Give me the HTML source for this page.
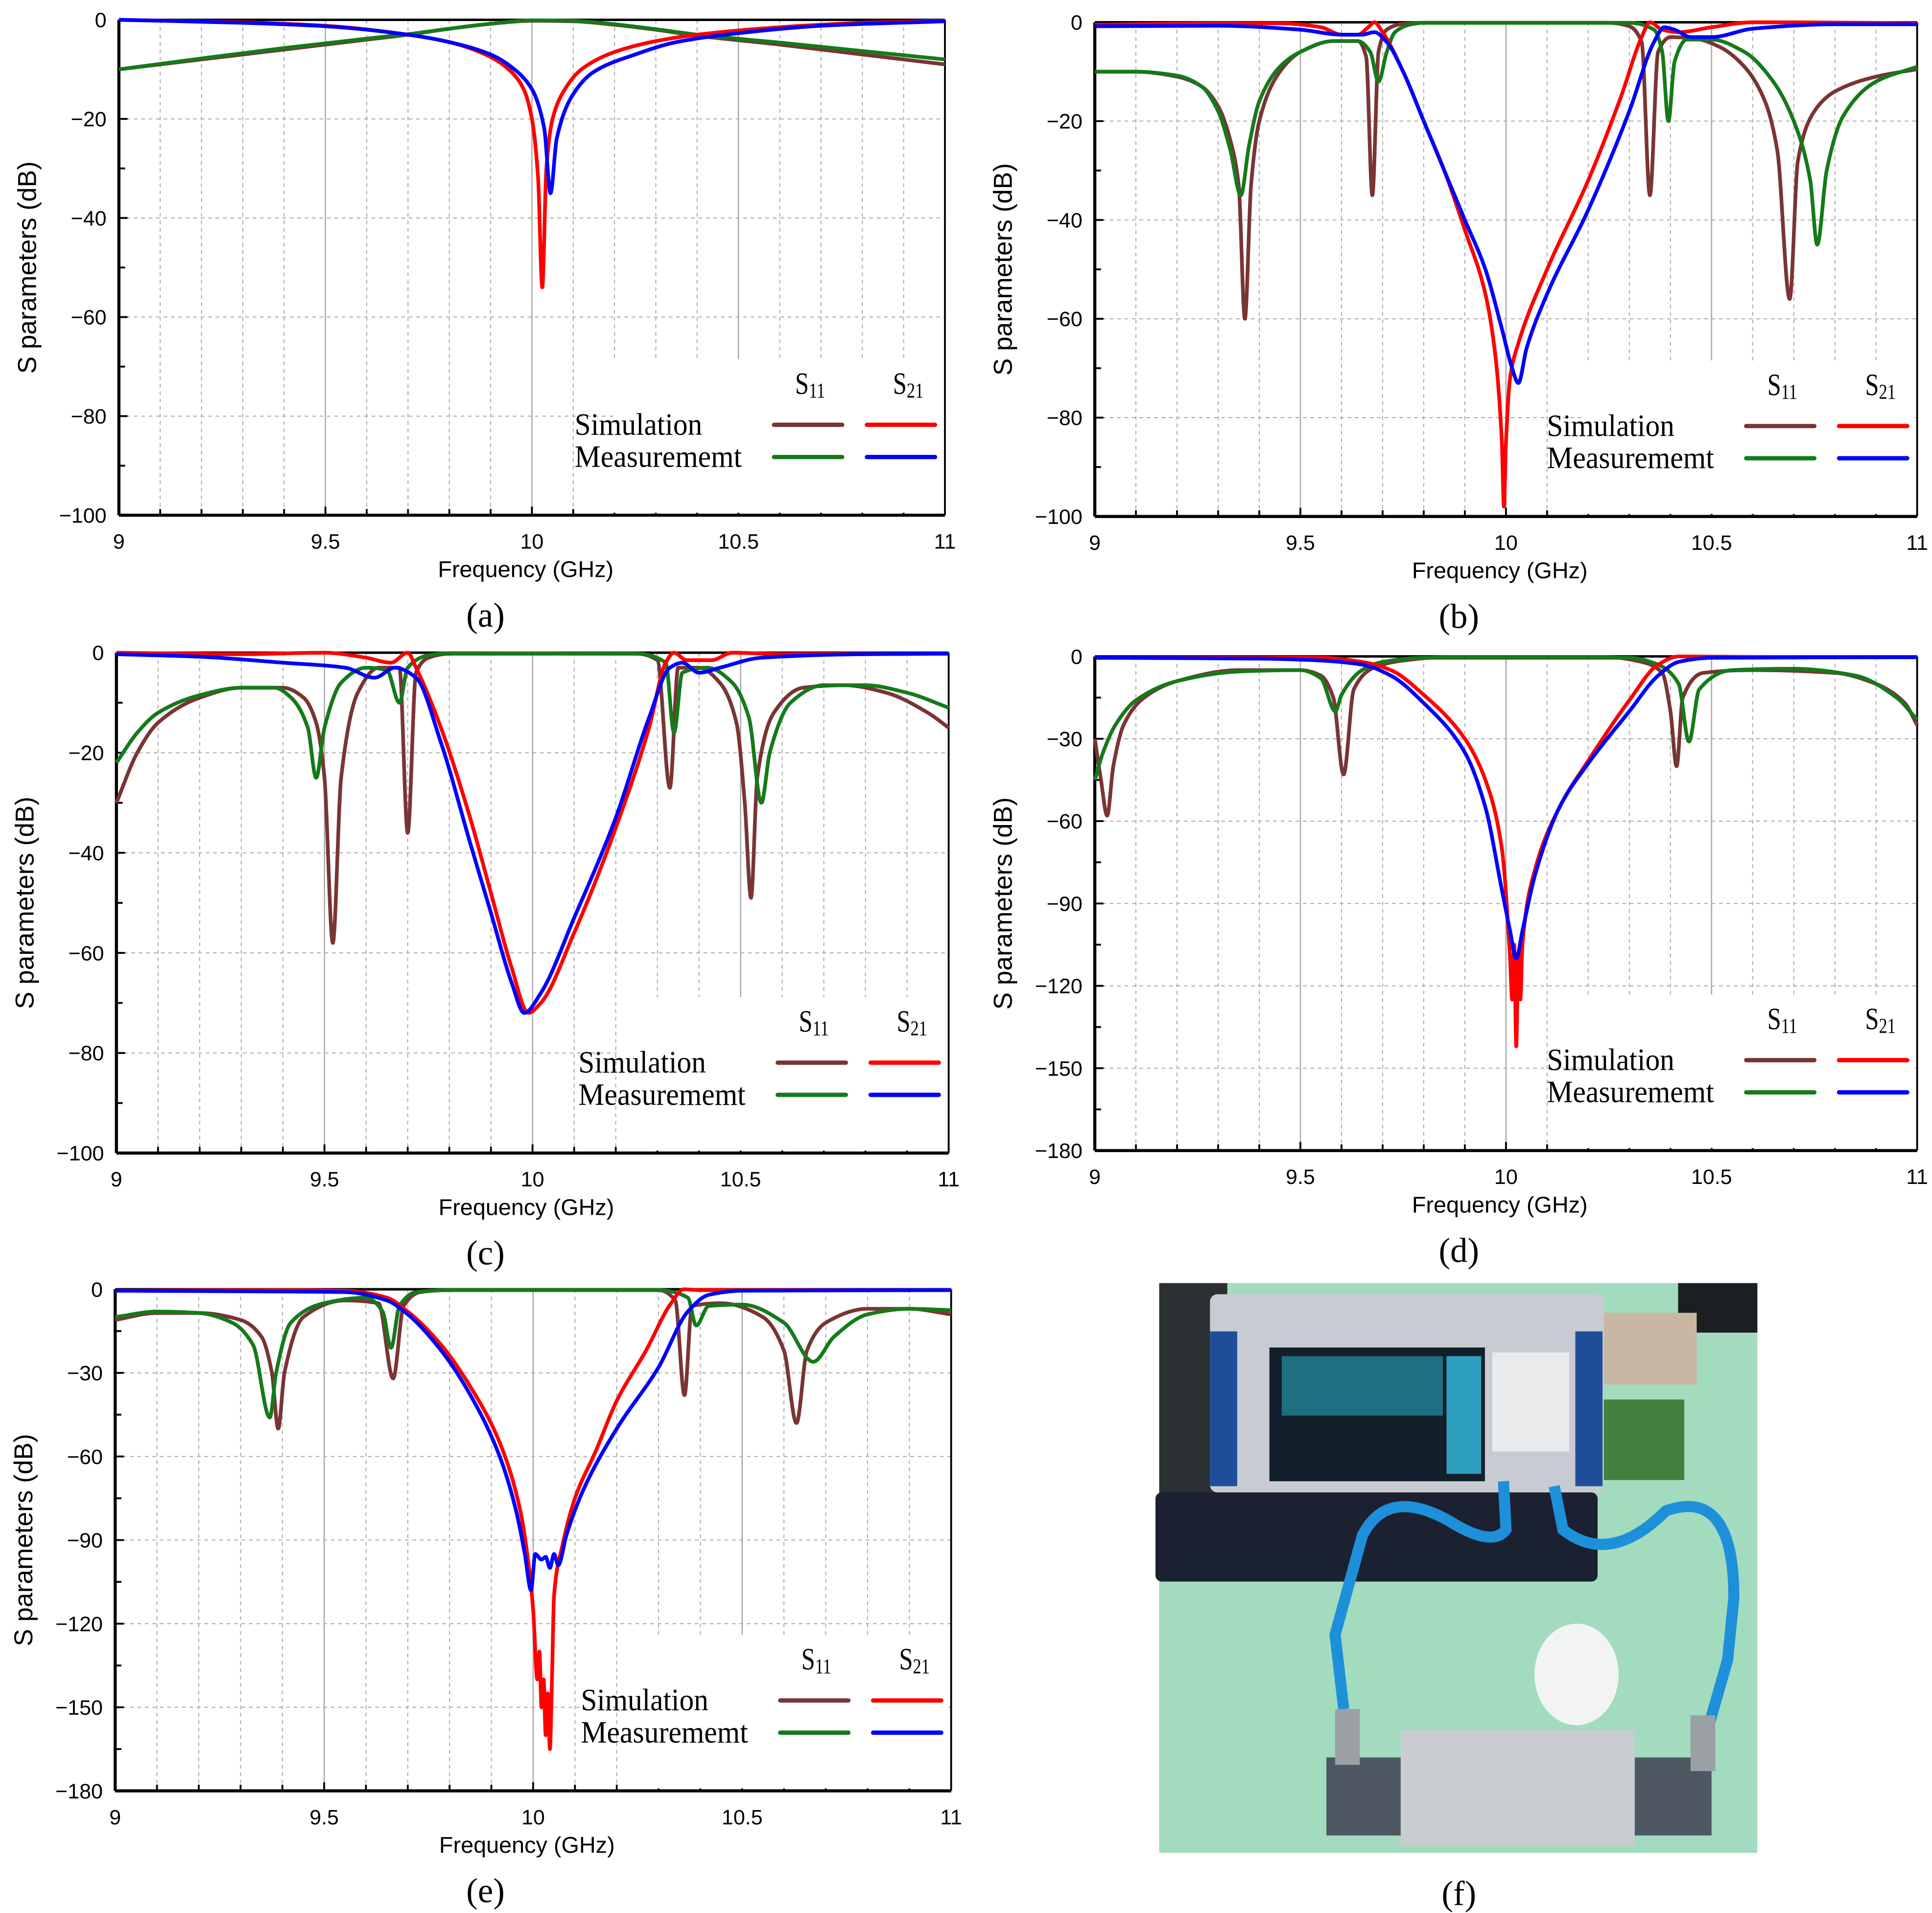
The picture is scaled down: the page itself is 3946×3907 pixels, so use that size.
<!DOCTYPE html>
<html><head><meta charset="utf-8"><style>
html,body{margin:0;padding:0;background:#fff;}
svg{display:block;}
</style></head><body>
<svg id="fig" xmlns="http://www.w3.org/2000/svg" width="3946" height="3907" viewBox="0 0 1560 1544.6" preserveAspectRatio="none">
<g id="photo">
<rect x="936" y="1036" width="483" height="460" fill="#a3dbbf"/>
<rect x="936" y="1036" width="55" height="200" fill="#2b3132"/>
<rect x="1355" y="1036" width="64" height="40" fill="#1c1f22"/>
<rect x="1275" y="1060" width="95" height="58" fill="#c9b7a4"/>
<rect x="1290" y="1130" width="70" height="65" fill="#44803d"/>
<rect x="977" y="1045" width="318" height="160" rx="6" fill="#c8ccd2"/>
<rect x="977" y="1075" width="22" height="125" fill="#1e4e9a"/>
<rect x="1272" y="1075" width="22" height="125" fill="#1e4e9a"/>
<rect x="1025" y="1088" width="174" height="108" fill="#13202c"/>
<rect x="1035" y="1095" width="130" height="48" fill="#1f6f82"/>
<rect x="1168" y="1095" width="28" height="95" fill="#2f9fc0"/>
<rect x="1205" y="1092" width="62" height="80" fill="#e8eaec"/>
<rect x="933" y="1205" width="357" height="72" rx="5" fill="#1b2130"/>
<path d="M1214,1196 L1216,1235 Q1205,1250 1170,1228 Q1120,1200 1100,1240 L1078,1320 L1085,1380" fill="none" stroke="#1e90da" stroke-width="9"/>
<path d="M1255,1200 L1262,1235 Q1300,1265 1345,1220 Q1400,1200 1400,1290 L1395,1340 L1375,1410" fill="none" stroke="#1e90da" stroke-width="9"/>
<ellipse cx="1273" cy="1352" rx="34" ry="41" fill="#f2f4f4"/>
<rect x="1071" y="1419" width="311" height="63" fill="#4d5862"/>
<rect x="1131" y="1397" width="189" height="93" fill="#c9ccd0"/>
<rect x="1078" y="1380" width="20" height="45" fill="#9aa0a4"/>
<rect x="1365" y="1385" width="20" height="45" fill="#9aa0a4"/>
</g>
</svg>
<script>
// ---- data: [frequency GHz, dB] ----
const aSimS11=[[9,-10],[9.2,-8],[9.4,-6],[9.6,-4],[9.7,-3],[9.8,-1.8],[9.9,-0.8],[10,-0.2],[10.1,-0.3],[10.2,-1],[10.3,-2],[10.4,-3.2],[10.6,-5],[10.8,-7],[11,-9]];
const aMeaS11=[[9,-10],[9.2,-7.8],[9.4,-5.7],[9.6,-3.8],[9.7,-2.9],[9.8,-1.8],[9.9,-0.8],[10,-0.1],[10.1,-0.2],[10.2,-0.9],[10.3,-1.9],[10.4,-3],[10.6,-4.6],[10.8,-6.3],[11,-8]];
const aSimS21=[[9,0],[9.3,-0.5],[9.5,-1.2],[9.7,-3],[9.8,-4.5],[9.9,-7.5],[9.95,-10.5],[9.98,-14],[10.0,-20],[10.015,-32],[10.025,-54],[10.035,-30],[10.05,-20],[10.08,-14],[10.12,-10],[10.2,-6.5],[10.3,-4.3],[10.4,-3],[10.6,-1.5],[10.8,-0.6],[11,-0.2]];
const aMeaS21=[[9,0],[9.3,-0.6],[9.5,-1.3],[9.7,-3],[9.8,-4.5],[9.9,-7],[9.95,-9.5],[10.0,-14],[10.03,-22],[10.045,-35],[10.06,-24],[10.1,-15],[10.15,-10.5],[10.25,-7],[10.35,-4.5],[10.5,-2.7],[10.7,-1.2],[11,-0.3]];

const bSimS11=[[9,-10],[9.1,-10],[9.2,-11],[9.26,-13],[9.3,-17],[9.33,-24],[9.35,-33],[9.365,-60],[9.38,-33],[9.4,-20],[9.45,-10],[9.5,-6],[9.58,-3.8],[9.64,-3.8],[9.66,-7],[9.675,-35],[9.69,-6],[9.71,-1.5],[9.75,-0.3],[9.8,-0.1],[10.25,-0.1],[10.3,-0.8],[10.33,-4],[10.35,-35],[10.37,-6],[10.4,-3],[10.46,-3.3],[10.52,-5],[10.58,-9],[10.63,-16],[10.66,-26],[10.69,-56],[10.71,-28],[10.75,-18],[10.8,-14],[10.9,-11],[11,-9.5]];
const bMeaS11=[[9,-10],[9.1,-10],[9.2,-10.8],[9.26,-13],[9.3,-18],[9.33,-26],[9.355,-35],[9.375,-25],[9.4,-16],[9.45,-9],[9.5,-6],[9.58,-3.8],[9.64,-3.8],[9.67,-6],[9.69,-12],[9.71,-6],[9.73,-2],[9.77,-0.4],[9.8,-0.1],[10.3,-0.1],[10.36,-1.5],[10.38,-6],[10.395,-20],[10.41,-8],[10.44,-3.5],[10.5,-3.5],[10.58,-6],[10.65,-12],[10.7,-20],[10.74,-32],[10.757,-45],[10.78,-30],[10.82,-19],[10.9,-12],[11,-9]];
const bSimS21=[[9,-0.5],[9.3,-0.2],[9.45,-0.2],[9.55,-1],[9.6,-2.5],[9.64,-2.5],[9.665,-1],[9.68,0],[9.7,-2],[9.75,-10],[9.8,-20],[9.85,-30],[9.9,-42],[9.95,-55],[9.975,-68],[9.99,-85],[9.995,-98],[10.0,-85],[10.01,-72],[10.03,-65],[10.1,-50],[10.2,-32],[10.28,-15],[10.33,-3],[10.35,0],[10.38,-1.5],[10.42,-2],[10.5,-1],[10.6,0],[10.7,0],[11,-0.2]];
const bMeaS21=[[9,-0.8],[9.3,-0.7],[9.5,-1.5],[9.6,-2.5],[9.65,-2.5],[9.68,-2],[9.71,-4],[9.75,-10],[9.8,-20],[9.85,-30],[9.9,-40],[9.95,-50],[9.99,-62],[10.015,-70],[10.03,-73],[10.05,-66],[10.1,-55],[10.2,-38],[10.3,-18],[10.36,-4],[10.385,-1],[10.41,-1.5],[10.45,-3],[10.5,-3],[10.6,-1.3],[10.8,-0.4],[11,-0.4]];

const cSimS11=[[9,-30],[9.05,-20],[9.1,-14],[9.2,-9],[9.3,-7],[9.4,-7],[9.45,-9],[9.48,-14],[9.5,-25],[9.52,-58],[9.54,-25],[9.58,-8],[9.63,-3],[9.68,-3],[9.7,-36],[9.72,-4],[9.75,-1],[9.8,-0.2],[10.25,-0.2],[10.3,-1.5],[10.33,-27],[10.35,-3],[10.4,-3],[10.45,-6],[10.49,-14],[10.51,-30],[10.525,-49],[10.54,-25],[10.58,-12],[10.65,-7],[10.75,-6.5],[10.85,-8],[10.95,-12],[11,-15]];
const cMeaS11=[[9,-22],[9.05,-16],[9.1,-12],[9.2,-8.5],[9.3,-7],[9.38,-7],[9.42,-9],[9.46,-15],[9.48,-25],[9.5,-15],[9.54,-6],[9.6,-3],[9.65,-3.5],[9.68,-10],[9.7,-3],[9.75,-0.5],[9.8,-0.1],[10.25,-0.2],[10.32,-2],[10.34,-16],[10.36,-4],[10.42,-3],[10.48,-6],[10.52,-13],[10.55,-30],[10.57,-20],[10.62,-10],[10.7,-6.5],[10.8,-6.5],[10.9,-8],[11,-11]];
const cSimS21=[[9,0],[9.3,-0.3],[9.5,0],[9.6,-1],[9.66,-2],[9.7,0],[9.72,-3],[9.78,-15],[9.85,-33],[9.9,-48],[9.95,-63],[9.99,-72],[10.02,-70],[10.1,-56],[10.2,-35],[10.28,-15],[10.32,-2],[10.34,0],[10.37,-1.5],[10.43,-1.5],[10.48,0],[10.6,-0.3],[11,-0.2]];
const cMeaS21=[[9,-0.3],[9.2,-0.8],[9.4,-2],[9.55,-3],[9.62,-5],[9.67,-3],[9.72,-5],[9.78,-18],[9.85,-38],[9.9,-52],[9.95,-66],[9.98,-72],[10.02,-68],[10.1,-53],[10.2,-33],[10.28,-13],[10.33,-3],[10.36,-2],[10.4,-4],[10.45,-3],[10.55,-1],[10.8,-0.3],[11,-0.2]];

const dSimS11=[[9,-30],[9.015,-45],[9.03,-58],[9.045,-40],[9.07,-25],[9.12,-15],[9.2,-9],[9.35,-5],[9.5,-5],[9.55,-7],[9.58,-15],[9.605,-43],[9.63,-12],[9.68,-4],[9.75,-1.5],[9.85,-0.3],[10.25,-0.3],[10.33,-2],[10.38,-6],[10.4,-20],[10.415,-40],[10.43,-15],[10.48,-6],[10.6,-5],[10.8,-6],[10.9,-10],[10.97,-17],[11,-25]];
const dMeaS11=[[9,-45],[9.02,-35],[9.05,-25],[9.1,-16],[9.2,-9],[9.35,-5.5],[9.5,-5],[9.55,-8],[9.585,-20],[9.6,-14],[9.65,-5],[9.7,-2],[9.8,-0.5],[10.3,-0.5],[10.37,-3],[10.42,-10],[10.445,-31],[10.47,-12],[10.55,-5],[10.7,-4.5],[10.85,-7],[10.95,-15],[11,-23]];
const dSimS21=[[9,-0.5],[9.4,-0.5],[9.55,-0.5],[9.65,-2],[9.72,-5],[9.8,-14],[9.9,-30],[9.95,-45],[9.99,-70],[10.01,-110],[10.015,-125],[10.02,-105],[10.025,-142],[10.03,-108],[10.035,-125],[10.04,-105],[10.07,-78],[10.13,-55],[10.2,-38],[10.3,-16],[10.37,-3],[10.42,0],[10.6,-0.2],[11,-0.3]];
const dMeaS21=[[9,-0.5],[9.4,-0.8],[9.55,-1.5],[9.65,-3],[9.72,-7],[9.8,-17],[9.9,-35],[9.95,-55],[9.99,-85],[10.01,-100],[10.025,-110],[10.04,-100],[10.07,-80],[10.13,-55],[10.2,-39],[10.3,-20],[10.37,-7],[10.42,-2],[10.5,-0.5],[11,-0.3]];

const eSimS11=[[9,-11],[9.1,-8.5],[9.2,-8.5],[9.3,-11],[9.35,-17],[9.375,-30],[9.39,-50],[9.405,-30],[9.45,-10],[9.55,-4],[9.63,-5],[9.665,-32],[9.69,-6],[9.73,-1],[9.8,-0.3],[10.3,-0.3],[10.34,-4],[10.362,-38],[10.38,-6],[10.45,-5],[10.55,-10],[10.6,-22],[10.63,-48],[10.655,-22],[10.7,-12],[10.8,-7],[10.9,-7],[11,-9]];
const eMeaS11=[[9,-10],[9.1,-8],[9.2,-8.5],[9.28,-12],[9.33,-20],[9.37,-46],[9.385,-30],[9.42,-12],[9.5,-5],[9.6,-3],[9.64,-8],[9.66,-21],[9.68,-6],[9.72,-1],[9.8,-0.3],[10.3,-0.3],[10.37,-3],[10.39,-13],[10.42,-6],[10.5,-5.5],[10.6,-12],[10.67,-26],[10.72,-17],[10.8,-9],[10.9,-7],[11,-7.5]];
const eSimS21=[[9,-0.5],[9.4,-0.3],[9.55,-0.5],[9.65,-3],[9.7,-8],[9.78,-20],[9.85,-35],[9.92,-55],[9.97,-80],[9.99,-100],[10.0,-115],[10.01,-140],[10.015,-130],[10.02,-150],[10.025,-140],[10.03,-160],[10.035,-145],[10.04,-165],[10.045,-140],[10.05,-110],[10.07,-92],[10.1,-75],[10.15,-58],[10.2,-40],[10.27,-22],[10.33,-5],[10.36,0],[10.4,-0.3],[11,-0.3]];
const eMeaS21=[[9,-0.5],[9.4,-0.8],[9.55,-1],[9.65,-4],[9.7,-9],[9.78,-22],[9.85,-38],[9.92,-60],[9.96,-80],[9.98,-95],[9.995,-108],[10.005,-95],[10.02,-97],[10.03,-96],[10.04,-100],[10.05,-95],[10.06,-99],[10.08,-88],[10.12,-72],[10.2,-50],[10.3,-28],[10.37,-8],[10.42,-2],[10.5,-0.5],[11,-0.3]];

const xTickLabels=["9","9.5","10","10.5","11"];
const yTicks100=[0,-20,-40,-60,-80,-100];
const yTicks180=[0,-30,-60,-90,-120,-150,-180];

const NS="http://www.w3.org/2000/svg";
const svg=document.getElementById('fig');
function mk(tag,attrs,parent,text){const e=document.createElementNS(NS,tag);for(const k in attrs)e.setAttribute(k,attrs[k]);if(text!==undefined)e.textContent=text;(parent||svg).appendChild(e);return e;}

// monotone cubic (Fritsch-Carlson) path through screen points
function monoPath(P){
 const n=P.length;if(n<2)return '';
 const dx=[],dy=[],m=[],t=[];
 for(let i=0;i<n-1;i++){dx[i]=P[i+1][0]-P[i][0];dy[i]=P[i+1][1]-P[i][1];m[i]=dy[i]/dx[i];}
 t[0]=m[0];t[n-1]=m[n-2];
 for(let i=1;i<n-1;i++){ if(m[i-1]*m[i]<=0)t[i]=0; else {const w1=2*dx[i]+dx[i-1],w2=dx[i]+2*dx[i-1];t[i]=(w1+w2)/(w1/m[i-1]+w2/m[i]);} }
 let d='M'+P[0][0].toFixed(2)+','+P[0][1].toFixed(2);
 for(let i=0;i<n-1;i++){const h=dx[i]/3;
  d+=' C'+(P[i][0]+h).toFixed(2)+','+(P[i][1]+t[i]*h).toFixed(2)+' '+(P[i+1][0]-h).toFixed(2)+','+(P[i+1][1]-t[i+1]*h).toFixed(2)+' '+P[i+1][0].toFixed(2)+','+P[i+1][1].toFixed(2);}
 return d;
}

const panels=[
 {id:'a',x0:96,x1:763,y0:16,y1:416,ticks:yTicks100,cx:392,series:[aSimS11,aMeaS11,aSimS21,aMeaS21]},
 {id:'b',x0:884,x1:1548,y0:18,y1:417,ticks:yTicks100,cx:1178,series:[bSimS11,bMeaS11,bSimS21,bMeaS21]},
 {id:'c',x0:94,x1:766,y0:527,y1:931,ticks:yTicks100,cx:392,series:[cSimS11,cMeaS11,cSimS21,cMeaS21]},
 {id:'d',x0:884,x1:1548,y0:530,y1:929,ticks:yTicks180,cx:1178,series:[dSimS11,dMeaS11,dSimS21,dMeaS21]},
 {id:'e',x0:93,x1:768,y0:1041,y1:1446,ticks:yTicks180,cx:392,series:[eSimS11,eMeaS11,eSimS21,eMeaS21]}
];
const colors=['#7a3434','#157a1a','#ff0000','#0000ff'];
const sNames=['s11-simulation','s11-measurement','s21-simulation','s21-measurement'];

panels.forEach(p=>{
 const g=mk('g',{});
 
 
 const ymin=p.ticks[p.ticks.length-1];
 const X=f=>p.x0+(f-9)/2*(p.x1-p.x0);
 const Y=v=>p.y0+(v/ymin)*(p.y1-p.y0);
 for(let i=1;i<20;i++){const f=9+i*0.1;const major=(i%5===0);
  const l=mk('line',{x1:X(f),x2:X(f),y1:p.y0,y2:p.y1,stroke:major?'#a8a8a8':'#aaaaaa','stroke-width':major?1:0.8,'stroke-dasharray':major?'':'3,3'},g);
  
  mk('line',{x1:X(f),x2:X(f),y1:p.y1,y2:p.y1-(major?7:5),stroke:'#000','stroke-width':1.5},g);
 }
 p.ticks.forEach((t,i)=>{const y=Y(t);
  if(i>0&&i<p.ticks.length-1){const l=mk('line',{x1:p.x0,x2:p.x1,y1:y,y2:y,stroke:'#aaaaaa','stroke-width':0.8,'stroke-dasharray':'3,3'},g);}
  mk('line',{x1:p.x0,x2:p.x0+7,y1:y,y2:y,stroke:'#000','stroke-width':1.5},g);
  if(i<p.ticks.length-1){const ym=Y((t+p.ticks[i+1])/2);mk('line',{x1:p.x0,x2:p.x0+5,y1:ym,y2:ym,stroke:'#000','stroke-width':1.5},g);}
  const lb=mk('text',{x:p.x0-10,y:y+6,'text-anchor':'end','font-family':'Liberation Sans, sans-serif','font-size':17},g,t===0?'0':'\u2212'+Math.abs(t));
  
 });
 xTickLabels.forEach(s=>{const lb=mk('text',{x:X(parseFloat(s)),y:p.y1+27,'text-anchor':'middle','font-family':'Liberation Sans, sans-serif','font-size':17},g,s);});
 const lx=p.x1,ly=p.y1;
 const box=mk('rect',{x:lx-268,y:ly-126,width:266,height:124,fill:'#fff'},g);
 
 mk('line',{x1:p.x0,x2:p.x1,y1:p.y0,y2:p.y0,stroke:'#000','stroke-width':2},g);
 mk('line',{x1:p.x1,x2:p.x1,y1:p.y0,y2:p.y1,stroke:'#000','stroke-width':1.5},g);
 mk('line',{x1:p.x0,x2:p.x0,y1:p.y0,y2:p.y1,stroke:'#000','stroke-width':2.5},g);
 mk('line',{x1:p.x0,x2:p.x1,y1:p.y1,y2:p.y1,stroke:'#000','stroke-width':2.5},g);
 p.series.forEach((s,k)=>{
  const pts=s.map(pt=>[X(pt[0]),Y(pt[1])]);
  const path=mk('path',{d:monoPath(pts),fill:'none',stroke:colors[k],'stroke-width':3,'stroke-linejoin':'round'},g);
  
  
 });
 const ff='Liberation Serif, serif';
 const t1=mk('text',{x:lx-299,y:ly-65,'font-family':ff,'font-size':25,textLength:103,lengthAdjust:'spacingAndGlyphs'},g,'Simulation');
 const t2=mk('text',{x:lx-299,y:ly-39,'font-family':ff,'font-size':25,textLength:135,lengthAdjust:'spacingAndGlyphs'},g,'Measurememt');
 [['S','11',lx-121],['S','21',lx-42]].forEach(a=>{const t=mk('text',{x:a[2],y:ly-98,'font-family':ff,'font-size':25,transform:'translate('+a[2]+',0) scale(0.8,1) translate('+(-a[2])+',0)'},g);
  mk('tspan',{},t,a[0]);mk('tspan',{'font-size':17,dy:3},t,a[1]);});
 [[lx-138,ly-73,0],[lx-138,ly-47,1],[lx-63,ly-73,2],[lx-63,ly-47,3]].forEach(a=>{const l=mk('line',{x1:a[0],x2:a[0]+55,y1:a[1],y2:a[1],stroke:colors[a[2]],'stroke-width':3.5,'stroke-linecap':'round'},g);});
 const xt=mk('text',{x:(p.x0+p.x1)/2-5,y:p.y1+50,'text-anchor':'middle','font-family':'Liberation Sans, sans-serif','font-size':18.5},g,'Frequency (GHz)');
 
 const cy=(p.y0+p.y1)/2, cx=p.x0-67;
 const yt=mk('text',{x:cx,y:cy,'text-anchor':'middle','font-family':'Liberation Sans, sans-serif','font-size':21,transform:'rotate(-90 '+cx+' '+cy+')'},g,'S parameters (dB)');
 
 const cap=mk('text',{x:p.cx,y:p.y1+90,'text-anchor':'middle','font-family':'Liberation Serif, serif','font-size':28},g,'('+p.id+')');
 
});
const capf=mk('text',{x:1178,y:1538,'text-anchor':'middle','font-family':'Liberation Serif, serif','font-size':28},svg,'(f)');


</script>
</body></html>
